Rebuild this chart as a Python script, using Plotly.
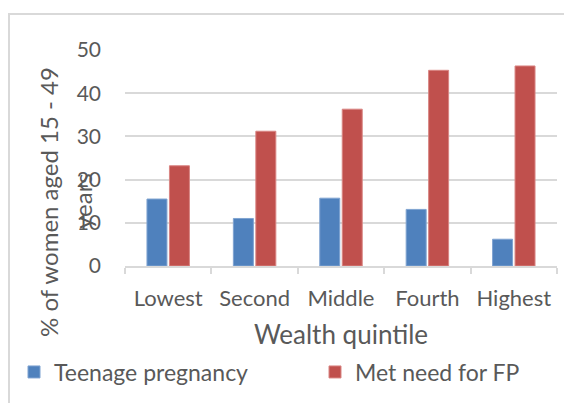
import plotly.graph_objects as go

categories = ["Lowest", "Second", "Middle", "Fourth", "Highest"]
teen_preg = [15.5, 11.0, 15.7, 13.1, 6.2]
met_need = [23.2, 31.2, 36.3, 45.3, 46.3]
y_ticks = [0, 10, 20, 30, 40, 50]

FONT = "Lato"
TXT = "#595959"
GRID = "#d9d9d9"

fig = go.Figure()
fig.add_trace(go.Bar(x=categories, y=teen_preg, name="Teenage pregnancy", legend="legend",
                     marker=dict(color="#4f81bd", line=dict(color="#7fa3d1", width=1))))
fig.add_trace(go.Bar(x=categories, y=met_need, name="Met need for FP", legend="legend2",
                     marker=dict(color="#c0504d", line=dict(color="#d98583", width=1))))

# page body has an 8px default margin; positions below are given in page pixels
OFF = 8
W, H = 572, 403
PL, PR, PT, PB = 125, 557, 50, 266  # plot area in page pixels
L, T = PL - OFF, PT - OFF
R, B = W - (PR - OFF), H - (PB - OFF)
pw, ph = PR - PL, PB - PT

def px(x):
    return (x - PL) / pw

def py(y):
    return (PB - y) / ph

leg_common = dict(orientation="h", xanchor="left", yanchor="middle",
                  font=dict(size=23, color=TXT, family=FONT), bgcolor="rgba(0,0,0,0)")

fig.update_layout(
    width=W, height=H,
    margin=dict(l=L, r=R, t=T, b=B, autoexpand=False),
    paper_bgcolor="white", plot_bgcolor="white",
    barmode="group", bargap=0.48, bargroupgap=0.11,
    font=dict(family=FONT, color=TXT),
    showlegend=True,
    legend=dict(x=px(14), y=py(372), **leg_common),
    legend2=dict(x=px(315), y=py(372), **leg_common),
    xaxis=dict(showline=True, linecolor=GRID, linewidth=1.5,
               ticks="outside", tickson="boundaries", ticklen=6, tickcolor=GRID, tickwidth=1.5,
               tickfont=dict(size=22, color=TXT, family=FONT), ticklabelstandoff=12,
               title=dict(text="Wealth quintile", font=dict(size=26, color=TXT, family=FONT), standoff=16),
               showgrid=False),
    yaxis=dict(range=[0, 50], tickvals=y_ticks, showgrid=True, gridcolor=GRID, gridwidth=1.5,
               zeroline=False, showline=False, ticks="",
               tickfont=dict(size=21, color=TXT, family=FONT), ticklabelstandoff=23),
    annotations=[
        dict(text="% of women aged 15 - 49", textangle=-90, x=px(48), y=py(202),
             xref="paper", yref="paper", showarrow=False, xanchor="center", yanchor="middle",
             font=dict(size=24, color=TXT, family=FONT)),
        dict(text="years", textangle=-90, x=px(82), y=py(201),
             xref="paper", yref="paper", showarrow=False, xanchor="center", yanchor="middle",
             font=dict(size=24, color=TXT, family=FONT)),
    ],
    shapes=[
        dict(type="rect", xref="paper", yref="paper", x0=px(9), x1=px(590), y0=py(420), y1=py(14),
             line=dict(color=GRID, width=2), fillcolor="rgba(0,0,0,0)", layer="below"),
    ],
)

fig.write_html("out.html")
